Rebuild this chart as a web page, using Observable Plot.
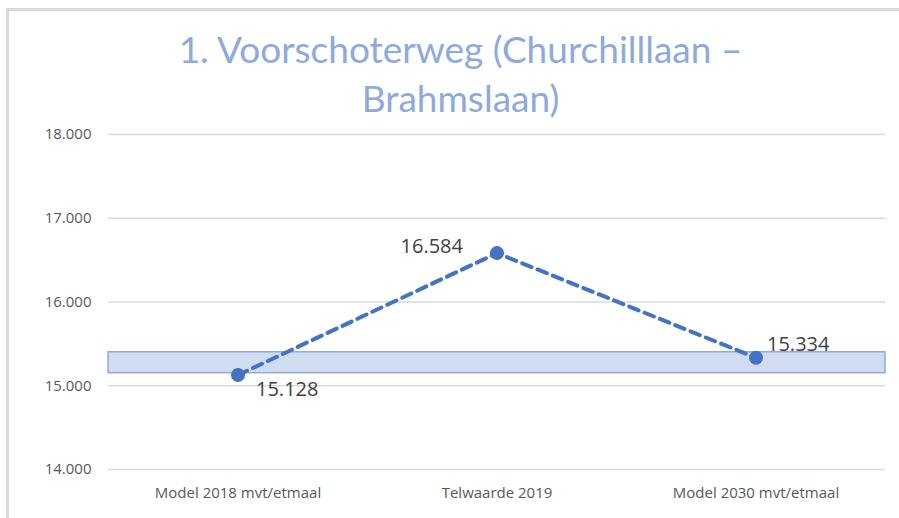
<!DOCTYPE html>
<html>
<head>
<meta charset="utf-8">
<script src="https://cdn.jsdelivr.net/npm/d3@7"></script>
<script src="https://cdn.jsdelivr.net/npm/@observablehq/plot@0.6"></script>
<style>
  html, body { margin: 0; padding: 0; background: #fff; }
  #wrap { position: relative; width: 899px; height: 518px; overflow: hidden; background: #fff; }
  #frame { position: absolute; left: 6px; top: 8px; width: 1000px; height: 1000px;
           border-left: 3px solid #d9d9d9; border-top: 3px solid #d9d9d9; box-sizing: border-box; }
  #title { position: absolute; left: 0; top: 0; width: 899px; height: 120px; box-sizing: border-box;
           padding-top: 24px; padding-left: 22px; text-align: center; font-family: Lato, "Open Sans", sans-serif;
           font-weight: 400; font-size: 37px; line-height: 49px; color: #8eaadc; }
  #title span { display: block; white-space: nowrap; }
  #chart { position: absolute; left: 0; top: 120px; }
</style>
</head>
<body>
<div id="wrap">
  <div id="frame"></div>
  <div id="title"><span>1. Voorschoterweg (Churchilllaan –</span><span>Brahmslaan)</span></div>
  <div id="chart"></div>
</div>
<script>
const categories = ["Model 2018 mvt/etmaal", "Telwaarde 2019", "Model 2030 mvt/etmaal"];
const values = [15128, 16584, 15334];
const yTicks = [14000, 15000, 16000, 17000, 18000];
const bandLow = [15150];
const bandHigh = [15400];

const nl = d3.formatLocale({decimal: ",", thousands: ".", grouping: [3], currency: ["€ ", ""]});
const fmt = nl.format(",.0f");

const data = categories.map((c, i) => ({cat: c, value: values[i]}));
const band = bandLow.map((lo, i) => ({lo, hi: bandHigh[i]}));

const blue = "#4472c4";
const labelStyle = {fontSize: 20, fill: "#404040", fontFamily: "'Open Sans', sans-serif"};

const chart = Plot.plot({
  width: 899,
  height: 398,
  marginLeft: 108,
  marginRight: 14,
  marginTop: 14,
  marginBottom: 49,
  style: {fontFamily: "'Open Sans', sans-serif", background: "transparent", overflow: "visible"},
  x: {type: "band", domain: categories, padding: 0, axis: null, label: null},
  y: {domain: [14000, 18000], axis: null, label: null},
  marks: [
    Plot.gridY(yTicks, {stroke: "#d9d9d9", strokeOpacity: 1, strokeWidth: 1.5}),
    Plot.rect(band, {y1: "lo", y2: "hi", fill: "#d0dcf0", stroke: "#8faadc", strokeWidth: 1.5}),
    Plot.axisY(yTicks, {tickSize: 0, tickPadding: 17, tickFormat: fmt, fontSize: 15, fill: "#595959", label: null}),
    Plot.axisX(categories, {tickSize: 0, tickPadding: 18, fontSize: 15, fill: "#595959", label: null}),
    Plot.line(data, {x: "cat", y: "value", stroke: blue, strokeWidth: 4, strokeDasharray: "10,6.5"}),
    Plot.dot(data, {x: "cat", y: "value", r: 7, fill: blue, stroke: "none"}),
    Plot.text(data.filter((d, i) => i === 0), {x: "cat", y: "value", text: d => fmt(d.value), textAnchor: "start", dx: 18, dy: 15, ...labelStyle}),
    Plot.text(data.filter((d, i) => i === 1), {x: "cat", y: "value", text: d => fmt(d.value), textAnchor: "end", dx: -34, dy: -6, ...labelStyle}),
    Plot.text(data.filter((d, i) => i === 2), {x: "cat", y: "value", text: d => fmt(d.value), textAnchor: "start", dx: 11, dy: -13, ...labelStyle})
  ]
});
document.getElementById("chart").appendChild(chart);
</script>
</body>
</html>
